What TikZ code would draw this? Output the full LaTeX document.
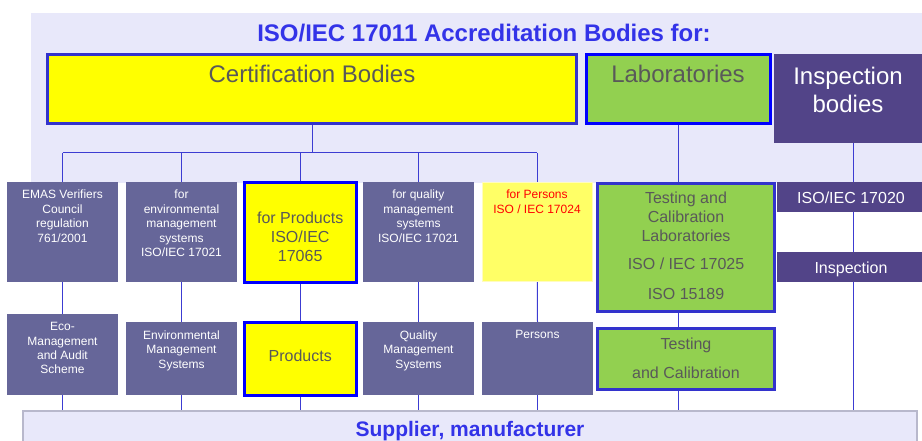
\documentclass[tikz,border=0pt]{standalone}
\usepackage{fontspec}
\setmainfont{Liberation Sans}
\definecolor{bandc}{RGB}{232,232,250}
\definecolor{slatec}{RGB}{102,102,153}
\definecolor{inspc}{RGB}{82,68,136}
\definecolor{greenc}{RGB}{146,208,80}
\definecolor{yelc}{RGB}{255,255,0}
\definecolor{lyelc}{RGB}{255,255,102}
\definecolor{titlec}{RGB}{51,51,232}
\definecolor{linec}{RGB}{60,60,210}
\definecolor{edgec}{RGB}{51,51,204}
\definecolor{bluec}{RGB}{0,0,255}
\definecolor{greyt}{RGB}{89,89,89}
\definecolor{suppedge}{RGB}{184,184,204}
\pgfdeclarelayer{back}
\pgfdeclarelayer{lines}
\pgfsetlayers{back,lines,main}
\newcommand\myHuge{\fontsize{24}{28.5}\selectfont}
\newcommand\myMid{\fontsize{16}{19.2}\selectfont}
\newcommand\mySmall{\fontsize{12}{14.5}\selectfont}
\newcommand\mySupp{\fontsize{21}{25}\selectfont}
\tikzset{
  bx/.style={rectangle, inner sep=0pt, outer sep=0pt, anchor=north west},
  slatebox/.style={bx, fill=slatec},
  inspbox/.style={bx, fill=inspc},
  yelbox/.style={bx, fill=yelc, draw=bluec, line width=3pt},
  certbox/.style={bx, fill=yelc, draw=edgec, line width=3pt},
  labbox/.style={bx, fill=greenc, draw=bluec, line width=3pt},
  grnbox/.style={bx, fill=greenc, draw=edgec, line width=3pt},
  perbox/.style={bx, fill=lyelc, draw=yellow!25!white, line width=0.8pt},
  suppbox/.style={bx, fill=bandc, draw=suppedge, line width=1.5pt},
  txt/.style={inner sep=0pt, outer sep=0pt, anchor=north, align=center},
  wtxt/.style={txt, text=white, font=\mySmall},
  gtxt/.style={txt, text=greyt, font=\myMid},
  lnk/.style={draw=linec, line width=1pt},
}
\begin{document}
\begin{tikzpicture}[x=1pt,y=-1pt]
\useasboundingbox (0,0) rectangle (922,441);
\clip (0,0) rectangle (922,441);
\begin{pgfonlayer}{back}
  \fill[bandc] (31,13) rectangle (930,183);
\end{pgfonlayer}

% title
\node[txt, text=titlec, font=\myHuge\bfseries] (title) at (484,24) {ISO/IEC 17011 Accreditation Bodies for:};

% top level
\node[certbox, minimum width=529pt, minimum height=69pt] (cert) at (47.5,54.5) {};
\node[labbox, minimum width=184.5pt, minimum height=69pt] (lab) at (586,54.5) {};
\node[inspbox, minimum width=155pt, minimum height=89.5pt] (insp) at (774,54) {};
\node[txt, text=greyt, font=\myHuge] (certT) at (312,65) {Certification Bodies};
\node[txt, text=greyt, font=\myHuge] (labT) at (678,65) {Laboratories};
\node[txt, text=white, font=\myHuge] (inspT) at (848,66.7) {Inspection\\bodies};

% row 1
\node[slatebox, minimum width=111pt, minimum height=100pt] (emas) at (7,182) {};
\node[slatebox, minimum width=111pt, minimum height=100pt] (env) at (126,182) {};
\node[yelbox, minimum width=111.5pt, minimum height=99.5pt] (prod1) at (244.5,182.5) {};
\node[slatebox, minimum width=111pt, minimum height=100pt] (qual) at (363,182) {};
\node[perbox, minimum width=110.5pt, minimum height=99pt] (pers1) at (482,182.3) {};
\node[grnbox, minimum width=177pt, minimum height=128.6pt] (tcl) at (597.2,183.2) {};
\node[inspbox, minimum width=150pt, minimum height=29.7pt] (i17020) at (776.7,182) {};
\node[inspbox, minimum width=150pt, minimum height=30pt] (inspc) at (776.7,251.7) {};

\node[wtxt] (emasT) at (62.5,190) {EMAS Verifiers\\Council\\regulation\\761/2001};
\node[wtxt] (envT) at (181.5,190) {for\\environmental\\management\\systems\\ISO/IEC 17021};
\node[gtxt] (prod1T) at (300.2,211.5) {for Products\\ISO/IEC\\17065};
\node[wtxt] (qualT) at (418.5,190) {for quality\\management\\systems\\ISO/IEC 17021};
\node[wtxt, text=red] (pers1T) at (537,190) {for Persons\\ISO / IEC 17024};
\node[gtxt] (tclT) at (686,191.7) {Testing and\\Calibration\\Laboratories\\[9pt]ISO / IEC 17025\\[10pt]ISO 15189};
\node[txt, text=white, font=\myMid] (i17020T) at (851,191.7) {ISO/IEC 17020};
\node[txt, text=white, font=\myMid] (inspcT) at (851,261.7) {Inspection};

% row 2
\node[slatebox, minimum width=111pt, minimum height=81pt] (eco) at (7,314) {};
\node[slatebox, minimum width=111pt, minimum height=73pt] (envms) at (126,322) {};
\node[yelbox, minimum width=111.5pt, minimum height=73pt] (prod2) at (244.5,322.2) {};
\node[slatebox, minimum width=111pt, minimum height=73pt] (qms) at (363,322) {};
\node[slatebox, minimum width=111pt, minimum height=73pt] (pers2) at (482,322) {};
\node[grnbox, minimum width=177pt, minimum height=60.7pt] (test) at (597.2,328.8) {};

\node[wtxt, font=\fontsize{12}{14.3}\selectfont] (ecoT) at (62.5,322.7) {Eco-\\Management\\and Audit\\Scheme};
\node[wtxt] (envmsT) at (181.5,330.7) {Environmental\\Management\\Systems};
\node[gtxt] (prod2T) at (300.2,350) {Products};
\node[wtxt] (qmsT) at (418.5,330.7) {Quality\\Management\\Systems};
\node[wtxt] (pers2T) at (537.5,330.7) {Persons};
\node[gtxt, font=\fontsize{16}{29}\selectfont] (testT) at (686,337.7) {Testing\\and Calibration};

% supplier
\node[suppbox, minimum width=894pt, minimum height=45pt] (supp) at (23,411) {};
\node[txt, text=titlec, font=\mySupp\bfseries] (suppT) at (470,421.7) {Supplier, manufacturer};

% connectors
\coordinate (bar) at (312,153);
\coordinate (ix) at (853,0);
\begin{pgfonlayer}{lines}
  \draw[lnk] (cert.south) -- (cert.south |- bar);
  \draw[lnk] (emas.north |- bar) -- (pers1.north |- bar);
  \foreach \n in {emas,env,prod1,qual,pers1}
    \draw[lnk] (\n.north |- bar) -- (\n.north);
  \draw[lnk] (emas.south) -- (eco.north);
  \draw[lnk] (env.south) -- (envms.north);
  \draw[lnk] (prod1.south) -- (prod2.north);
  \draw[lnk] (qual.south) -- (qms.north);
  \draw[lnk] (pers1.south) -- (pers2.north);
  \foreach \n in {eco,envms,prod2,qms,pers2}
    \draw[lnk] (\n.south) -- (\n.south |- supp.north);
  \draw[lnk] (lab.south) -- (lab.south |- supp.north);
  \draw[lnk] (insp.south -| ix) -- (supp.north -| ix);
\end{pgfonlayer}
\end{tikzpicture}
\end{document}
